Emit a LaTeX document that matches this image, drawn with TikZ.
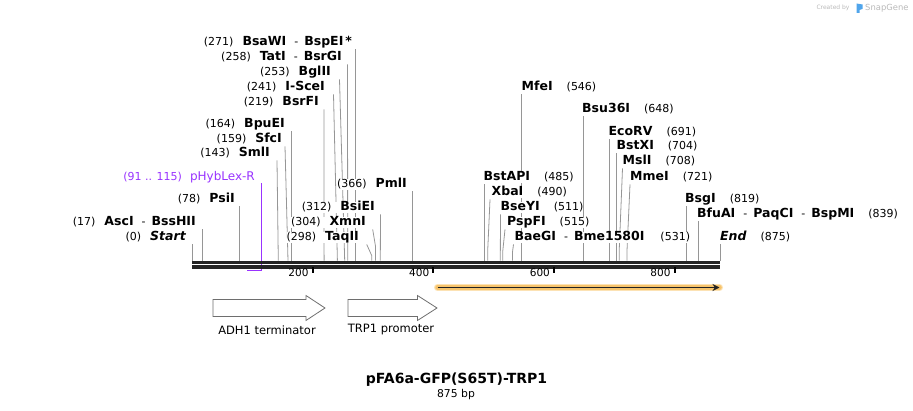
\documentclass[tikz,border=0pt]{standalone}
\usepackage{fontspec}
\setmainfont{DejaVu Sans}
\usetikzlibrary{positioning,arrows.meta,backgrounds}

\definecolor{cutgray}{RGB}{150,150,150}
\definecolor{rulerink}{RGB}{35,35,35}
\definecolor{primerviolet}{RGB}{153,51,255}
\definecolor{glowout}{RGB}{252,226,180}
\definecolor{glowin}{RGB}{247,196,108}
\definecolor{featgray}{RGB}{110,110,110}
\definecolor{marklight}{RGB}{185,185,185}
\definecolor{markblue}{RGB}{80,165,235}

\newcommand{\enz}[1]{{\fontsize{12.5}{14}\selectfont\bfseries #1}}
\newcommand{\enzsep}{\hspace{8pt}-\hspace{6pt}}
\newcommand{\termpt}[1]{{\fontsize{12.5}{14}\selectfont\bfseries\itshape #1}}

\begin{document}
\begin{tikzpicture}[x=1pt, y=-1pt,
 every node/.style={inner sep=0pt, font=\fontsize{11}{13}\selectfont},
 sitelbl/.style={text height=9pt, text depth=2.5pt, fill=white},
 lefts/.style={sitelbl, anchor=east},
 rights/.style={sitelbl, anchor=west},
 cutline/.style={draw=cutgray, line width=0.8pt},
 primer/.style={draw=primerviolet, line width=1.5pt},
 ruletop/.style={draw=rulerink, line width=3.3pt},
 tickmark/.style={draw=black, line width=2pt},
 ticklbl/.style={anchor=east, font=\fontsize{10.5}{12}\selectfont},
 featbox/.style={draw=featgray, fill=white, line width=0.8pt, line join=miter},
 featlbl/.style={font=\fontsize{11.5}{13}\selectfont},
 wm/.style={text=marklight}]
\useasboundingbox (0,0) rectangle (913,411);

% watermark
\node[wm, font=\fontsize{6}{7}\selectfont] (wmby) at (833,8) {Created by};
\fill[markblue] (856.5,3.5) -- (862.5,4.5) -- (862.5,9) -- (859.5,10) -- (859.5,13) -- (856.5,13) -- cycle;
\node[wm, anchor=west, font=\fontsize{8.4}{9}\selectfont] (wmsg) at (865,8) {SnapGene};

% primer pHybLex-R (below the ruler)
\node[lefts, text=primerviolet] (phyb) at (255,177.5) {(91 .. 115)\hspace{8pt}{\fontsize{12}{13}\selectfont pHybLex-R}};
\coordinate (p115) at (261.4,270.5);
\coordinate (p91) at (246.9,270.5);
\draw[primer] (p115 |- phyb.south) -- (p115) -- (p91);

% ruler
\coordinate (rulerL) at (192,262.3);
\coordinate (rulerR) at (720,262.3);
\draw[ruletop] (rulerL) -- (rulerR);
\draw[ruletop] ([yshift=-4.7pt]rulerL) -- ([yshift=-4.7pt]rulerR);

\coordinate (t200) at (312.7,267.5);
\coordinate (t400) at (433.4,267.5);
\coordinate (t600) at (554.1,267.5);
\coordinate (t800) at (674.7,267.5);
\draw[tickmark] (t200) -- ++(0,6);
\draw[tickmark] (t400) -- ++(0,6);
\draw[tickmark] (t600) -- ++(0,6);
\draw[tickmark] (t800) -- ++(0,6);
\node[ticklbl] (l200) at ([shift={(-4,5.5)}]t200) {200};
\node[ticklbl] (l400) at ([shift={(-4,5.5)}]t400) {400};
\node[ticklbl] (l600) at ([shift={(-4,5.5)}]t600) {600};
\node[ticklbl] (l800) at ([shift={(-4,5.5)}]t800) {800};

% sites, left side
\node[lefts] (bsawi) at (352,42.5) {(271)\hspace{9pt}\enz{BsaWI}\enzsep\enz{BspEI}\,\enz{*}};
\node[lefts] (tati) at (342,57.5) {(258)\hspace{9pt}\enz{TatI}\enzsep\enz{BsrGI}};
\node[lefts] (bglii) at (331,72.5) {(253)\hspace{9pt}\enz{BglII}};
\node[lefts] (iscei) at (325,87.5) {(241)\hspace{9pt}\enz{I-SceI}};
\node[lefts] (bsrfi) at (319,102.5) {(219)\hspace{9pt}\enz{BsrFI}};
\node[lefts] (bpuei) at (285,124.5) {(164)\hspace{9pt}\enz{BpuEI}};
\node[lefts] (sfci) at (282,139.5) {(159)\hspace{9pt}\enz{SfcI}};
\node[lefts] (smli) at (270,153.5) {(143)\hspace{9pt}\enz{SmlI}};
\node[lefts] (psii) at (235,199.5) {(78)\hspace{9pt}\enz{PsiI}};
\node[lefts] (asci) at (196,222.5) {(17)\hspace{9pt}\enz{AscI}\enzsep\enz{BssHII}};
\node[lefts] (start) at (186,237.5) {(0)\hspace{9pt}\termpt{Start}};
\node[lefts] (pmli) at (407,184.5) {(366)\hspace{9pt}\enz{PmlI}};
\node[lefts] (bsiei) at (375,207.5) {(312)\hspace{9pt}\enz{BsiEI}};
\node[lefts] (xmni) at (366,222.5) {(304)\hspace{9pt}\enz{XmnI}};
\node[lefts] (taqii) at (359,237.5) {(298)\hspace{9pt}\enz{TaqII}};

\coordinate (s271) at (355.5,260.7);
\coordinate (s258) at (347.7,260.7);
\coordinate (s253) at (344.7,260.7);
\coordinate (s241) at (337.4,260.7);
\coordinate (s219) at (324.1,260.7);
\coordinate (s164) at (291,260.7);
\coordinate (s159) at (288,260.7);
\coordinate (s143) at (278.3,260.7);
\coordinate (s78) at (239,260.7);
\coordinate (s17) at (202.3,260.7);
\coordinate (s0) at (192,260.7);
\coordinate (s366) at (412.8,260.7);
\coordinate (s312) at (380.3,260.7);
\coordinate (s304) at (375.4,260.7);
\coordinate (s298) at (371.8,260.7);

% sites, right side
\node[rights] (mfei) at (521.5,87.5) {\enz{MfeI}\hspace{14pt}(546)};
\node[rights] (bsu36i) at (582,109.5) {\enz{Bsu36I}\hspace{14pt}(648)};
\node[rights] (ecorv) at (608.5,132.5) {\enz{EcoRV}\hspace{14pt}(691)};
\node[rights] (bstxi) at (616.5,146.5) {\enz{BstXI}\hspace{14pt}(704)};
\node[rights] (msli) at (622.5,161.5) {\enz{MslI}\hspace{14pt}(708)};
\node[rights] (mmei) at (630,177.5) {\enz{MmeI}\hspace{14pt}(721)};
\node[rights] (bstapi) at (483.5,177.5) {\enz{BstAPI}\hspace{14pt}(485)};
\node[rights] (xbai) at (491.5,192.5) {\enz{XbaI}\hspace{14pt}(490)};
\node[rights] (bseyi) at (500.5,207.5) {\enz{BseYI}\hspace{14pt}(511)};
\node[rights] (pspfi) at (507,222.5) {\enz{PspFI}\hspace{14pt}(515)};
\node[rights] (baegi) at (514.5,237.5) {\enz{BaeGI}\enzsep\enz{Bme1580I}\hspace{16pt}(531)};
\node[rights] (bsgi) at (685,199.5) {\enz{BsgI}\hspace{14pt}(819)};
\node[rights] (bfuai) at (697,214.5) {\enz{BfuAI}\enzsep\enz{PaqCI}\enzsep\enz{BspMI}\hspace{14pt}(839)};
\node[rights] (endsite) at (720,237.5) {\termpt{End}\hspace{14pt}(875)};

\coordinate (s546) at (521.5,260.7);
\coordinate (s648) at (583,260.7);
\coordinate (s691) at (609,260.7);
\coordinate (s704) at (616.8,260.7);
\coordinate (s708) at (619.2,260.7);
\coordinate (s721) at (627,260.7);
\coordinate (s485) at (484.7,260.7);
\coordinate (s490) at (487.7,260.7);
\coordinate (s511) at (500.3,260.7);
\coordinate (s515) at (502.8,260.7);
\coordinate (s531) at (512.4,260.7);
\coordinate (s819) at (686.2,260.7);
\coordinate (s839) at (698.3,260.7);
\coordinate (s875) at (720,260.7);

% leaders go behind the label boxes
\begin{scope}[on background layer]
\draw[cutline] ([shift={(3.5,1)}]bsawi.south east) -- (s271);
\draw[cutline] ([shift={(5.5,1)}]tati.south east) -- (s258);
\draw[cutline] ([shift={(8.5,1)}]bglii.south east) -- (s253);
\draw[cutline] ([shift={(8.5,1)}]iscei.south east) -- (s241);
\draw[cutline] ([shift={(5,1)}]bsrfi.south east) -- (s219);
\draw[cutline] ([shift={(6,1)}]bpuei.south east) -- (s164);
\draw[cutline] ([shift={(3,1)}]sfci.south east) -- (s159);
\draw[cutline] ([shift={(7,1)}]smli.south east) -- (s143);
\draw[cutline] ([shift={(4,1)}]psii.south east) -- (s78);
\draw[cutline] ([shift={(6.3,1)}]asci.south east) -- (s17);
\draw[cutline] ([shift={(6,1)}]start.south east) -- (s0);
\draw[cutline] ([shift={(5.8,1)}]pmli.south east) -- (s366);
\draw[cutline] ([shift={(5.5,1)}]bsiei.south east) -- (s312);
\draw[cutline] ([shift={(6.7,1)}]xmni.south east) -- ([yshift=15pt]s304) -- (s304);
\draw[cutline] ([shift={(7.7,1)}]taqii.south east) -- ([yshift=5pt]s298) -- (s298);
\draw[cutline] ([shift={(0,1)}]mfei.south west) -- (s546);
\draw[cutline] ([shift={(1,1)}]bsu36i.south west) -- (s648);
\draw[cutline] ([shift={(0.5,1)}]ecorv.south west) -- (s691);
\draw[cutline] ([shift={(0.3,1)}]bstxi.south west) -- (s704);
\draw[cutline] ([shift={(0,1)}]msli.south west) -- ([yshift=10pt]s708) -- (s708);
\draw[cutline] ([shift={(0,1)}]mmei.south west) -- ([yshift=10pt]s721) -- (s721);
\draw[cutline] ([shift={(1.2,1)}]bstapi.south west) -- (s485);
\draw[cutline] ([shift={(-1.5,1)}]xbai.south west) -- ([yshift=10pt]s490) -- (s490);
\draw[cutline] ([shift={(0,1)}]bseyi.south west) -- (s511);
\draw[cutline] ([shift={(-2,1)}]pspfi.south west) -- ([yshift=10pt]s515) -- (s515);
\draw[cutline] ([shift={(-1,1)}]baegi.south west) -- ([yshift=8pt]s531) -- (s531);
\draw[cutline] ([shift={(1.2,1)}]bsgi.south west) -- (s819);
\draw[cutline] ([shift={(1.3,1)}]bfuai.south west) -- (s839);
\draw[cutline] ([shift={(0,1)}]endsite.south west) -- (s875);
\end{scope}

% GFP feature
\coordinate (gfpL) at (437.5,287.5);
\coordinate (gfpR) at (719.5,287.5);
\draw[glowout, line width=7pt, line cap=round] (gfpL) -- (gfpR);
\draw[glowin, line width=4.5pt, line cap=round] (gfpL) -- (gfpR);
\draw[rulerink, line width=1.8pt, -{Stealth[length=7pt,width=7pt]}] (gfpL) -- (gfpR);

% features
\draw[featbox] (213,299.5) -- (306,299.5) -- (306,295.5) -- (325,308) -- (306,320.5) -- (306,316.5) -- (213,316.5) -- cycle;
\draw[featbox] (348,299.5) -- (417.5,299.5) -- (417.5,295.5) -- (437,308) -- (417.5,320.5) -- (417.5,316.5) -- (348,316.5) -- cycle;
\node[featlbl] (adh1) at (267,330) {ADH1 terminator};
\node[featlbl] (trp1) at (391,330) {TRP1 promoter};

% title
\node[font=\fontsize{14}{16}\selectfont\bfseries] (title) at (456.5,380) {pFA6a-GFP(S65T)-TRP1};
\node[font=\fontsize{10.8}{12}\selectfont] (bp) at (456,395) {875 bp};
\end{tikzpicture}
\end{document}
